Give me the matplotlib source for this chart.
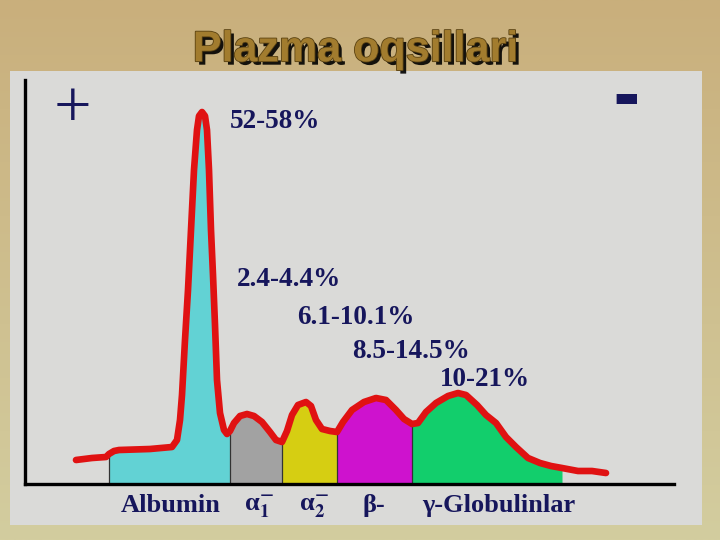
import numpy as np
import matplotlib.pyplot as plt
from matplotlib import patheffects as pe
from matplotlib.patches import Rectangle

# electrophoresis curve: position along strip, relative intensity
pos = [76, 92, 106, 109, 114, 119, 150, 172, 177, 180, 182, 185, 188, 191, 194, 197,
       199, 202, 205, 207, 209, 211, 213, 215, 217, 220, 224, 227, 230, 234, 240, 247,
       254, 262, 270, 276, 282, 287, 292, 298, 306, 311, 316, 322, 330, 337, 343, 352,
       364, 376, 386, 396, 404, 412, 418, 426, 436, 448, 458, 466, 477, 486, 496, 506,
       516, 528, 540, 551, 562, 578, 592, 606]
intensity = [24, 26, 27, 30, 33, 34, 35, 37, 44, 64, 89, 144, 194, 254, 314, 354,
             368, 372, 368, 354, 314, 254, 209, 159, 104, 71, 54, 50, 53, 61, 68, 70,
             68, 62, 52, 44, 42, 53, 69, 79, 82, 78, 64, 55, 53, 52, 62, 74,
             82, 86, 84, 74, 65, 60, 61, 72, 81, 88, 91, 89, 79, 69, 61, 47,
             37, 26, 21, 18, 16, 13, 13, 11]

# fractions
fractions = ["Albumin", "α$_\\mathbf{1}^\\mathbf{-}$", "α$_\\mathbf{2}^\\mathbf{-}$", "β-", "γ-Globulinlar"]
bounds = [109, 230, 282, 337, 412, 562]
colors = ["#62D2D4", "#A2A2A2", "#D6CE12", "#CE12CE", "#12CE6C"]
label_x = [171, 259, 314, 374, 499]

# percentage annotations
pct_text = ["52-58%", "2.4-4.4%", "6.1-10.1%", "8.5-14.5%", "10-21%"]
pct_x = [230, 237, 297, 352, 440]
pct_y = [363, 205, 167, 132, 104]

navy = "#16165C"
plt.rcParams['mathtext.fontset'] = 'stix'

fig = plt.figure(figsize=(7.2, 5.4), dpi=100)

# background gradient
bg = fig.add_axes([0, 0, 1, 1], zorder=-2)
grad = np.linspace(0, 1, 256)[:, None]
top_c = np.array([201, 175, 124]) / 255
bot_c = np.array([211, 205, 159]) / 255
img = top_c[None, None, :] * (1 - grad[:, :, None]) + bot_c[None, None, :] * grad[:, :, None]
bg.imshow(img, aspect='auto', extent=[0, 1, 0, 1])
bg.set_axis_off()

# gray panel
fig.patches.append(Rectangle((10 / 720, 1 - 525 / 540), 692 / 720, 454 / 540,
                             transform=fig.transFigure, facecolor="#DADAD8",
                             edgecolor="none", zorder=-1))

ax = fig.add_axes([25 / 720, 1 - 484 / 540, 649 / 720, 404 / 540])
ax.set_facecolor("none")
ax.set_xlim(25, 674)
ax.set_ylim(0, 404)

x = np.array(pos)
y = np.array(intensity)
for (a, b), c in zip(zip(bounds[:-1], bounds[1:]), colors):
    m = (x >= a) & (x <= b)
    ax.fill_between(x, 0, y, where=m, color=c, linewidth=0, zorder=1)
hmap = dict(zip(pos, intensity))
ax.vlines(bounds[:-1], 0, [hmap[b] for b in bounds[:-1]], color="#333333", lw=0.9, zorder=2)
ax.plot(x, y, color="#E01212", lw=4.8, solid_capstyle='round', solid_joinstyle='round',
        zorder=3, clip_on=False)

for t, px, py in zip(pct_text, pct_x, pct_y):
    ax.text(px, py, t, fontsize=19.5, fontweight='bold', family='Liberation Serif',
            color=navy, va='center', ha='left')

ax.text(72, 374, "+", fontsize=48, family='Liberation Serif', color=navy,
        ha='center', va='center')
ax.text(626, 384, "-", fontsize=48, fontweight='bold', family='DejaVu Sans', color=navy,
        ha='center', va='center')

for s in ['top', 'right']:
    ax.spines[s].set_visible(False)
for s in ['left', 'bottom']:
    ax.spines[s].set_linewidth(2.4)
    ax.spines[s].set_color("black")
ax.set_yticks([])
ax.set_xticks(label_x)
ax.set_xticklabels(fractions, fontsize=19, fontweight='bold', family='Liberation Serif',
                   color=navy)
ax.tick_params(axis='x', length=0, pad=7)

fig.text(0.493, 0.907, "Plazma oqsillari", fontsize=31, fontweight='bold',
         family='Liberation Sans', color="#A27C2E", ha='center', va='center',
         path_effects=[pe.withSimplePatchShadow(offset=(2.5, -2.5), shadow_rgbFace='black',
                                                alpha=0.9),
                       pe.withStroke(linewidth=1.2, foreground="#5A4212")])

fig.savefig("out.png", dpi=100)
